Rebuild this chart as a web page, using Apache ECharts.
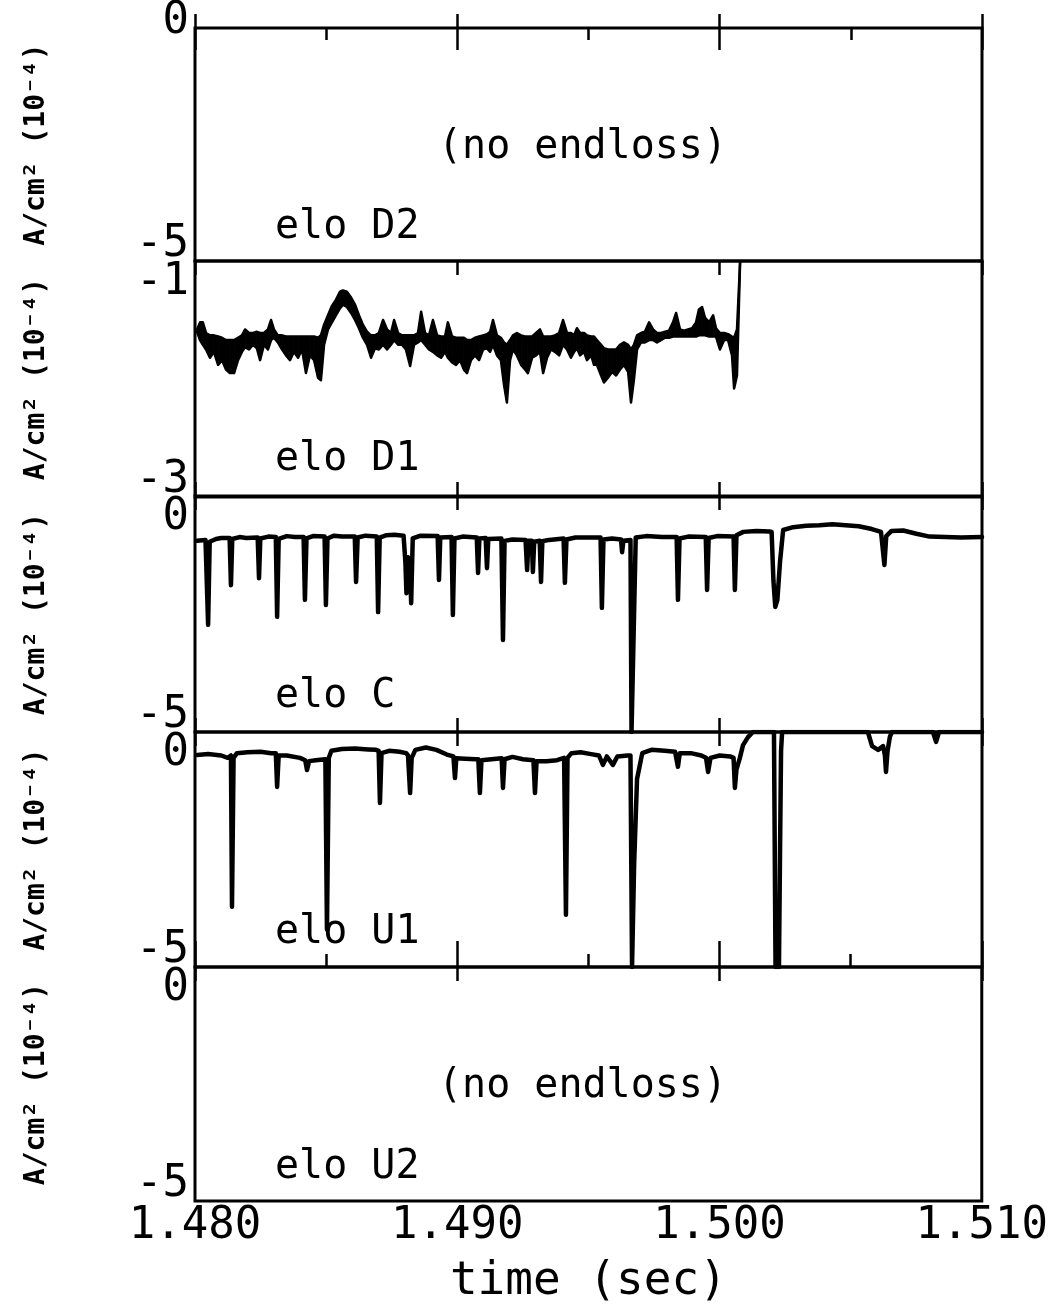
<!DOCTYPE html>
<html>
<head>
<meta charset="utf-8">
<title>Endloss current</title>
<script src="https://cdn.jsdelivr.net/npm/echarts@6.0.0/dist/echarts.min.js"></script>
<style>
  html, body { margin: 0; padding: 0; background: #fff; }
  #chart { width: 1051px; height: 1306px; }
</style>
</head>
<body>
<div id="chart"></div>
<script>
// Time is kept in milliseconds; the axis prints it in seconds.
const timeMin = 1480;
const timeMax = 1510;

// Panels, top to bottom
const panelNames = ['elo D2', 'elo D1', 'elo C', 'elo U1', 'elo U2'];
const panelEmpty = [true, false, false, false, true];
const yMin = [-5, -3, -5, -5, -5];
const yMax = [0, -1, 0, 0, 0];
const yAxisTitle = 'A/cm\u00B2 (10\u207B\u2074)';
const emptyNote = '(no endloss)';
const xAxisTitle = 'time (sec)';

// elo D1: upper and lower envelope of the noisy trace
const d1Time = [1480.08,1480.19,1480.30,1480.42,1480.57,1480.72,1480.88,1481.03,1481.18,1481.33,1481.49,1481.64,1481.79,1481.91,1482.06,1482.21,1482.36,1482.48,1482.63,1482.78,1482.90,1483.01,1483.16,1483.32,1483.47,1483.62,1483.77,1483.93,1484.08,1484.23,1484.38,1484.54,1484.69,1484.80,1484.92,1485.07,1485.22,1485.37,1485.53,1485.64,1485.79,1485.95,1486.10,1486.25,1486.40,1486.56,1486.71,1486.86,1487.01,1487.17,1487.32,1487.47,1487.59,1487.74,1487.89,1488.04,1488.20,1488.35,1488.50,1488.62,1488.77,1488.92,1489.07,1489.23,1489.38,1489.53,1489.64,1489.80,1489.95,1490.10,1490.25,1490.37,1490.52,1490.67,1490.83,1490.98,1491.13,1491.25,1491.36,1491.51,1491.66,1491.78,1491.89,1492.01,1492.12,1492.27,1492.43,1492.58,1492.69,1492.85,1493.00,1493.15,1493.27,1493.42,1493.57,1493.72,1493.88,1494.03,1494.18,1494.33,1494.45,1494.56,1494.68,1494.83,1494.94,1495.10,1495.21,1495.32,1495.48,1495.59,1495.74,1495.90,1496.05,1496.20,1496.35,1496.51,1496.62,1496.73,1496.85,1497.00,1497.15,1497.31,1497.46,1497.61,1497.76,1497.92,1498.07,1498.22,1498.34,1498.49,1498.64,1498.79,1498.95,1499.10,1499.21,1499.33,1499.44,1499.60,1499.75,1499.86,1500.01,1500.17,1500.32,1500.47,1500.55,1500.66,1500.78];
const d1Upper = [-1.58,-1.52,-1.52,-1.61,-1.63,-1.63,-1.64,-1.65,-1.67,-1.67,-1.67,-1.65,-1.63,-1.58,-1.61,-1.61,-1.60,-1.61,-1.61,-1.58,-1.50,-1.58,-1.63,-1.63,-1.64,-1.64,-1.64,-1.64,-1.64,-1.64,-1.64,-1.64,-1.65,-1.63,-1.54,-1.46,-1.38,-1.33,-1.26,-1.25,-1.26,-1.31,-1.37,-1.46,-1.54,-1.60,-1.63,-1.63,-1.61,-1.50,-1.58,-1.61,-1.50,-1.61,-1.63,-1.63,-1.63,-1.63,-1.61,-1.43,-1.61,-1.63,-1.50,-1.63,-1.64,-1.64,-1.52,-1.64,-1.65,-1.65,-1.65,-1.67,-1.67,-1.65,-1.64,-1.63,-1.62,-1.60,-1.50,-1.63,-1.65,-1.69,-1.71,-1.67,-1.63,-1.61,-1.63,-1.64,-1.64,-1.64,-1.61,-1.58,-1.64,-1.64,-1.64,-1.63,-1.61,-1.50,-1.61,-1.61,-1.63,-1.57,-1.61,-1.61,-1.63,-1.64,-1.64,-1.67,-1.71,-1.74,-1.75,-1.75,-1.75,-1.71,-1.69,-1.71,-1.75,-1.71,-1.63,-1.61,-1.60,-1.52,-1.58,-1.61,-1.61,-1.60,-1.59,-1.52,-1.44,-1.58,-1.59,-1.58,-1.57,-1.52,-1.41,-1.39,-1.48,-1.52,-1.46,-1.57,-1.61,-1.61,-1.62,-1.64,-1.65,-1.58,-1.00];
const d1Lower = [-1.60,-1.67,-1.71,-1.75,-1.82,-1.77,-1.88,-1.84,-1.92,-1.95,-1.95,-1.84,-1.77,-1.73,-1.75,-1.71,-1.74,-1.84,-1.71,-1.75,-1.67,-1.65,-1.69,-1.75,-1.80,-1.84,-1.77,-1.82,-1.75,-1.95,-1.80,-1.84,-1.99,-2.01,-1.71,-1.58,-1.52,-1.46,-1.40,-1.37,-1.39,-1.44,-1.50,-1.57,-1.65,-1.71,-1.82,-1.74,-1.75,-1.71,-1.75,-1.71,-1.67,-1.71,-1.71,-1.75,-1.89,-1.71,-1.69,-1.67,-1.71,-1.75,-1.77,-1.80,-1.82,-1.77,-1.82,-1.86,-1.88,-1.84,-1.92,-1.95,-1.84,-1.80,-1.84,-1.75,-1.74,-1.77,-1.71,-1.80,-1.84,-2.05,-2.20,-1.84,-1.75,-1.80,-1.88,-1.92,-1.95,-1.82,-1.80,-1.77,-1.95,-1.82,-1.75,-1.77,-1.80,-1.71,-1.75,-1.82,-1.77,-1.74,-1.80,-1.77,-1.84,-1.80,-1.88,-1.88,-1.97,-2.03,-1.99,-1.94,-1.97,-1.92,-1.88,-1.94,-2.20,-2.01,-1.75,-1.69,-1.69,-1.67,-1.67,-1.69,-1.67,-1.65,-1.65,-1.64,-1.64,-1.64,-1.64,-1.64,-1.64,-1.64,-1.63,-1.63,-1.63,-1.64,-1.64,-1.64,-1.75,-1.67,-1.67,-1.80,-2.08,-1.97,-1.00];

// elo C
const cTime = [1480.08,1480.40,1480.45,1480.50,1480.56,1480.80,1481.00,1481.32,1481.37,1481.42,1481.70,1481.95,1482.39,1482.44,1482.49,1482.80,1483.08,1483.13,1483.19,1483.50,1483.80,1484.14,1484.19,1484.25,1484.50,1484.94,1484.99,1485.05,1485.30,1485.60,1486.09,1486.14,1486.20,1486.50,1486.93,1486.98,1487.04,1487.30,1487.60,1487.95,1488.02,1488.06,1488.12,1488.20,1488.24,1488.30,1488.60,1489.25,1489.30,1489.35,1489.78,1489.83,1489.89,1490.20,1490.74,1490.79,1490.84,1491.08,1491.13,1491.18,1491.68,1491.74,1491.80,1492.10,1492.60,1492.66,1492.71,1492.84,1492.88,1492.93,1493.14,1493.19,1493.24,1493.50,1494.05,1494.10,1494.16,1494.50,1495.00,1495.46,1495.51,1495.57,1495.90,1496.24,1496.28,1496.33,1496.60,1496.64,1496.68,1496.80,1497.20,1497.80,1498.36,1498.41,1498.47,1498.80,1499.47,1499.52,1499.58,1499.90,1500.53,1500.58,1500.64,1500.90,1501.40,1501.90,1501.98,1502.05,1502.12,1502.20,1502.30,1502.42,1502.80,1503.30,1503.80,1504.30,1504.80,1505.30,1505.80,1506.15,1506.28,1506.35,1506.55,1507.00,1507.50,1508.00,1508.60,1509.20,1510.00];
const cValue = [-0.95,-0.93,-0.93,-2.73,-0.97,-0.91,-0.89,-0.89,-1.89,-0.91,-0.87,-0.89,-0.88,-1.74,-0.90,-0.86,-0.87,-2.56,-0.91,-0.85,-0.87,-0.87,-2.20,-0.90,-0.85,-0.86,-2.31,-0.90,-0.84,-0.86,-0.86,-1.82,-0.88,-0.84,-0.86,-2.46,-0.88,-0.83,-0.82,-0.84,-1.40,-2.06,-1.30,-1.60,-2.27,-0.90,-0.84,-0.85,-1.78,-0.88,-0.87,-2.52,-0.90,-0.86,-0.88,-1.63,-0.90,-0.89,-1.53,-0.91,-0.90,-3.05,-0.95,-0.92,-0.93,-1.57,-0.95,-0.95,-1.61,-0.97,-0.95,-1.82,-0.96,-0.93,-0.90,-1.84,-0.92,-0.88,-0.88,-0.88,-2.37,-0.92,-0.90,-0.92,-1.19,-0.95,-0.93,-5.00,-5.00,-0.88,-0.85,-0.87,-0.87,-2.20,-0.90,-0.86,-0.87,-1.99,-0.89,-0.85,-0.86,-1.99,-0.83,-0.76,-0.74,-0.75,-0.76,-1.80,-2.35,-2.20,-1.40,-0.72,-0.66,-0.63,-0.62,-0.60,-0.62,-0.64,-0.70,-0.76,-1.46,-0.85,-0.74,-0.73,-0.80,-0.86,-0.87,-0.88,-0.87];

// elo U1
const u1Time = [1480.08,1480.50,1481.00,1481.25,1481.37,1481.41,1481.47,1481.60,1482.00,1482.50,1482.90,1483.08,1483.13,1483.19,1483.50,1484.00,1484.20,1484.27,1484.35,1484.60,1484.97,1485.03,1485.10,1485.20,1485.60,1486.10,1486.60,1486.90,1487.00,1487.05,1487.11,1487.40,1487.80,1488.05,1488.12,1488.20,1488.26,1488.40,1488.80,1489.20,1489.60,1489.85,1489.91,1489.96,1490.30,1490.70,1490.80,1490.86,1490.92,1491.30,1491.69,1491.74,1491.80,1492.10,1492.50,1492.90,1492.96,1493.02,1493.40,1493.80,1494.07,1494.14,1494.20,1494.35,1494.70,1495.10,1495.40,1495.55,1495.70,1495.93,1496.10,1496.50,1496.60,1496.66,1496.70,1496.74,1496.85,1497.05,1497.40,1497.90,1498.30,1498.35,1498.41,1498.48,1498.90,1499.30,1499.48,1499.56,1499.65,1500.00,1500.40,1500.53,1500.58,1500.64,1500.77,1500.89,1501.08,1501.27,1502.07,1502.13,1502.26,1502.30,1502.34,1502.38,1505.65,1505.81,1506.04,1506.23,1506.30,1506.34,1506.40,1506.49,1506.57,1508.13,1508.25,1508.36,1510.00];
const u1Value = [-0.49,-0.47,-0.50,-0.55,-0.50,-3.72,-0.55,-0.45,-0.43,-0.42,-0.45,-0.45,-1.17,-0.50,-0.50,-0.55,-0.60,-0.81,-0.62,-0.60,-0.58,-4.20,-0.55,-0.40,-0.36,-0.35,-0.37,-0.38,-0.40,-1.51,-0.45,-0.40,-0.42,-0.45,-0.50,-1.30,-0.55,-0.38,-0.33,-0.38,-0.48,-0.52,-0.98,-0.56,-0.57,-0.58,-0.58,-1.30,-0.60,-0.58,-0.56,-1.19,-0.58,-0.53,-0.58,-0.60,-1.30,-0.62,-0.62,-0.60,-0.55,-3.89,-0.55,-0.45,-0.43,-0.47,-0.50,-0.70,-0.52,-0.70,-0.52,-0.50,-0.50,-5.00,-5.00,-2.80,-1.00,-0.45,-0.38,-0.40,-0.42,-0.45,-0.74,-0.45,-0.45,-0.50,-0.55,-0.85,-0.55,-0.50,-0.52,-0.55,-1.19,-0.80,-0.55,-0.28,-0.11,0,0,-5,-5,-2.6,-0.4,0,0,-0.30,-0.38,-0.30,-0.50,-0.85,-0.40,-0.10,0,0,-0.21,0,0];

const FONT = "'DejaVu Sans Mono', 'Liberation Mono', monospace";
const INK = '#000';

const pairs = (ts, vs) => ts.map((t, i) => [t, vs[i]]);

// panel geometry (pixels)
const plotLeft = 195, plotWidth = 787;
const panelTop = [28, 261, 496, 732, 967];
const panelHeight = [233, 236, 236, 235, 235];

const grids = [], xAxes = [], yAxes = [];
panelNames.forEach((name, i) => {
  const last = i === panelNames.length - 1;
  const first = i === 0;
  grids.push({
    left: plotLeft, width: plotWidth, top: panelTop[i], height: panelHeight[i],
    show: true, borderColor: INK, borderWidth: 3, backgroundColor: 'transparent'
  });
  // bottom time axis
  xAxes.push({
    type: 'value', gridIndex: i, position: 'bottom', min: timeMin, max: timeMax, interval: 10,
    axisLine: { show: false },
    axisTick: { show: true, inside: true, length: last ? 26 : 14, lineStyle: { color: INK, width: 2.5 } },
    minorTick: { show: last, splitNumber: 2, length: 13, lineStyle: { color: INK, width: 2.5 } },
    splitLine: { show: false },
    axisLabel: {
      show: last, margin: 4, color: INK, fontFamily: FONT, fontSize: 44,
      formatter: v => (v / 1000).toFixed(3)
    },
    name: last ? xAxisTitle : '', nameLocation: 'middle', nameGap: 58,
    nameTextStyle: { color: INK, fontFamily: FONT, fontSize: 46 }
  });
  // top time axis (ticks only)
  xAxes.push({
    type: 'value', gridIndex: i, position: 'top', min: timeMin, max: timeMax, interval: 10,
    axisLine: { show: false },
    axisTick: { show: true, inside: true, length: first ? 22 : 14, lineStyle: { color: INK, width: 2.5 } },
    minorTick: { show: first, splitNumber: 2, length: 12, lineStyle: { color: INK, width: 2.5 } },
    splitLine: { show: false },
    axisLabel: { show: false }
  });
  const lo = yMin[i], hi = yMax[i];
  yAxes.push({
    type: 'value', gridIndex: i, min: lo, max: hi, interval: hi - lo,
    axisLine: { show: false }, axisTick: { show: false }, splitLine: { show: false },
    axisLabel: {
      margin: 6, color: INK, fontFamily: FONT, fontSize: 44,
      formatter: v => (v === hi ? '{hi|' : '{lo|') + String(v) + '}',
      rich: {
        hi: { fontFamily: FONT, fontSize: 44, color: INK, padding: first ? [0, 0, 12, 0] : [44, 0, 0, 0] },
        lo: { fontFamily: FONT, fontSize: 44, color: INK, padding: [0, 0, 32, 0] }
      }
    },
    name: yAxisTitle, nameLocation: 'middle', nameRotate: 90, nameGap: 144,
    nameTextStyle: { color: INK, fontFamily: FONT, fontSize: 28, fontWeight: 'bold' }
  });
});

const traceLine = { color: INK, width: 4.5, cap: 'round', join: 'round' };
const edgeLine = { color: INK, width: 2.5, cap: 'round', join: 'round' };

// elo D1 envelope, split into quadrilaterals between neighbouring samples
const d1Segments = d1Time.slice(0, -1).map((t, i) =>
  [t, d1Lower[i], d1Upper[i], d1Time[i + 1], d1Lower[i + 1], d1Upper[i + 1]]);

const series = [
  {
    type: 'custom', name: 'D1 band', xAxisIndex: 2, yAxisIndex: 1,
    data: d1Segments,
    encode: { x: [0, 3], y: [1, 2, 4, 5] },
    renderItem: (params, api) => {
      const p1 = api.coord([api.value(0), api.value(1)]);
      const p2 = api.coord([api.value(0), api.value(2)]);
      const p3 = api.coord([api.value(3), api.value(5)]);
      const p4 = api.coord([api.value(3), api.value(4)]);
      return {
        type: 'polygon',
        shape: { points: [p1, p2, p3, p4] },
        style: { fill: INK, stroke: INK, lineWidth: 1 }
      };
    }
  },
  {
    type: 'line', name: 'D1 lower', xAxisIndex: 2, yAxisIndex: 1,
    data: pairs(d1Time, d1Lower), showSymbol: false, symbol: 'none', lineStyle: edgeLine
  },
  {
    type: 'line', name: 'D1 upper', xAxisIndex: 2, yAxisIndex: 1,
    data: pairs(d1Time, d1Upper), showSymbol: false, symbol: 'none', lineStyle: edgeLine
  },
  {
    type: 'line', name: 'C', xAxisIndex: 4, yAxisIndex: 2,
    data: pairs(cTime, cValue), showSymbol: false, symbol: 'none', lineStyle: traceLine
  },
  {
    type: 'line', name: 'U1', xAxisIndex: 6, yAxisIndex: 3,
    data: pairs(u1Time, u1Value), showSymbol: false, symbol: 'none', lineStyle: traceLine
  }
];

// panel captions
const captionY = [228, 460, 697, 933, 1168];
const graphics = panelNames.map((name, i) => ({
  type: 'text', x: 275, y: captionY[i], z: 10,
  style: { text: name, font: '40px ' + FONT, fill: INK, align: 'left', verticalAlign: 'middle' }
}));
panelEmpty.forEach((empty, i) => {
  if (!empty) return;
  graphics.push({
    type: 'text', x: 438, y: panelTop[i] + 120, z: 10,
    style: { text: emptyNote, font: '40px ' + FONT, fill: INK, align: 'left', verticalAlign: 'middle' }
  });
});

const chart = echarts.init(document.getElementById('chart'), null, { renderer: 'canvas' });
chart.setOption({
  animation: false,
  backgroundColor: '#fff',
  grid: grids,
  xAxis: xAxes,
  yAxis: yAxes,
  series: series,
  graphic: graphics
});
</script>
</body>
</html>
